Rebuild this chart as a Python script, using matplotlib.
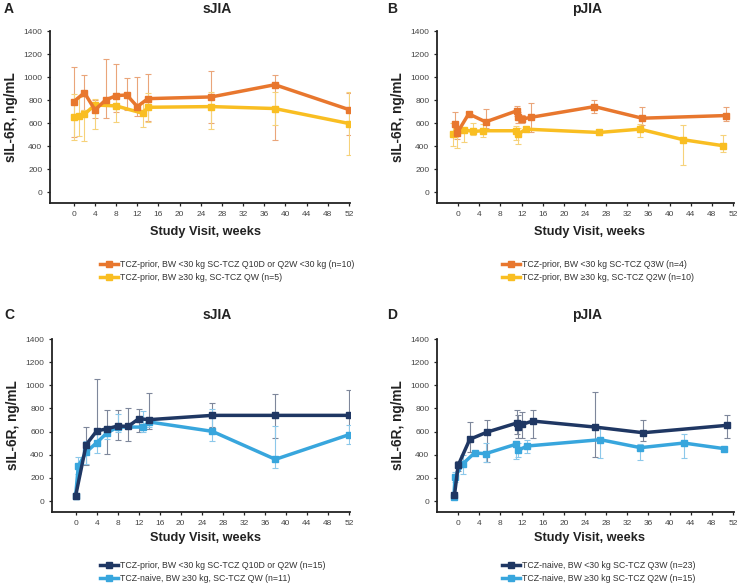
import numpy as np
import matplotlib.pyplot as plt

plt.rcParams['font.family'] = ['Liberation Sans', 'DejaVu Sans']

# colours
ORANGE = '#E8772E'
YELLOW = '#F9BE22'
NAVY = '#1F3763'
LBLUE = '#38A6DD'

# ---------------- Panel A : sJIA, TCZ-prior ----------------
a1_wk = [0, 2, 4, 6, 8, 10, 12, 14, 26, 38, 52]
a1_val = [786, 864, 714, 800, 838, 844, 743, 812, 827, 933, 717]
a1_lo = [480, 710, 640, 640, 700, 715, 660, 620, 600, 455, 495]
a1_hi = [1088, 1018, 800, 1160, 1112, 990, 1003, 1030, 1050, 1015, 865]

a2_wk = [0, 1, 2, 4, 8, 13, 14, 26, 38, 52]
a2_val = [651, 657, 677, 757, 749, 685, 737, 743, 726, 596]
a2_lo = [455, 490, 446, 550, 613, 564, 608, 547, 580, 323]
a2_hi = [850, 830, 715, 810, 860, 780, 860, 870, 870, 870]

# ---------------- Panel B : pJIA, TCZ-prior ----------------
b1_wk = [-0.6, -0.2, 2, 5.2, 11.1, 11.4, 12.1, 13.8, 25.8, 34.8, 50.6]
b1_val = [590, 513, 680, 610, 706, 650, 634, 650, 743, 642, 665]
b1_lo = [480, 460, 650, 560, 660, 600, 600, 520, 685, 580, 622]
b1_hi = [700, 560, 700, 722, 750, 700, 670, 778, 800, 743, 737]

b2_wk = [-1.0, -0.3, 1.1, 2.8, 4.7, 11.0, 11.3, 12.8, 26.7, 34.4, 42.6, 50.1]
b2_val = [504, 533, 541, 527, 533, 533, 501, 547, 518, 547, 455, 403]
b2_lo = [400, 380, 432, 500, 475, 450, 420, 530, 500, 480, 233, 346]
b2_hi = [600, 570, 560, 600, 590, 570, 560, 565, 540, 590, 582, 492]

# ---------------- Panel C : sJIA ----------------
c1_wk = [0, 2, 4, 6, 8, 10, 12, 14, 26, 38, 52]
c1_val = [45, 487, 605, 625, 648, 645, 711, 703, 740, 740, 740]
c1_lo = [45, 308, 490, 403, 524, 515, 596, 625, 640, 547, 590]
c1_hi = [45, 636, 1057, 789, 790, 806, 798, 933, 847, 927, 956]

c2_wk = [0, 0.5, 2, 4, 6, 8, 12.8, 14, 26, 38, 52]
c2_val = [45, 300, 423, 504, 590, 639, 639, 683, 602, 360, 573]
c2_lo = [45, 230, 320, 418, 540, 600, 600, 640, 515, 285, 490]
c2_hi = [45, 380, 520, 590, 640, 755, 775, 720, 798, 645, 660]

# ---------------- Panel D : pJIA ----------------
d1_wk = [-0.7, 0, 2.2, 5.5, 11.1, 11.3, 12.1, 14.1, 25.9, 35.0, 50.9]
d1_val = [48, 308, 533, 596, 674, 640, 662, 691, 639, 590, 654]
d1_lo = [30, 260, 420, 340, 580, 545, 547, 545, 380, 518, 547]
d1_hi = [70, 350, 683, 697, 789, 740, 770, 783, 942, 703, 746]

d2_wk = [-0.8, -0.6, 0.9, 3.1, 5.2, 10.9, 11.4, 13.0, 26.9, 34.5, 42.7, 50.4]
d2_val = [35, 207, 322, 415, 409, 490, 438, 475, 530, 461, 501, 452]
d2_lo = [20, 160, 236, 395, 340, 366, 380, 418, 374, 351, 374, 440]
d2_hi = [50, 250, 400, 430, 505, 520, 500, 530, 630, 490, 576, 465]

legends = {
    'A': ['TCZ-prior, BW <30 kg SC-TCZ Q10D or Q2W <30 kg (n=10)',
          'TCZ-prior, BW \u226530 kg, SC-TCZ QW (n=5)'],
    'B': ['TCZ-prior, BW <30 kg SC-TCZ Q3W (n=4)',
          'TCZ-prior, BW \u226530 kg, SC-TCZ Q2W (n=10)'],
    'C': ['TCZ-prior, BW <30 kg SC-TCZ Q10D or Q2W (n=15)',
          'TCZ-naive, BW \u226530 kg, SC-TCZ QW (n=11)'],
    'D': ['TCZ-naive, BW <30 kg SC-TCZ Q3W (n=23)',
          'TCZ-naive, BW \u226530 kg SC-TCZ Q2W (n=15)'],
}

W, H = 740, 585
fig = plt.figure(figsize=(7.4, 5.85), dpi=100)

def px(x, y):
    # pixel (from top-left) -> figure fraction
    return x / W, 1 - y / H

# letter, title, axes box (px: left, top, right, bottom), xmin,
# title x, letter x, row offset, legend x, legend y, series
panels = [
    ('A', 'sJIA', (50, 31, 350, 203), -4.5, 217, 4, 0, 100, 271,
     [(a1_wk, a1_val, a1_lo, a1_hi, ORANGE, '#EAA57A'),
      (a2_wk, a2_val, a2_lo, a2_hi, YELLOW, '#F6D27A')]),
    ('B', 'pJIA', (437, 31, 734, 203), -4.0, 587, 387, 0, 502, 271,
     [(b1_wk, b1_val, b1_lo, b1_hi, ORANGE, '#EAA57A'),
      (b2_wk, b2_val, b2_lo, b2_hi, YELLOW, '#F6D27A')]),
    ('C', 'sJIA', (52, 339, 350, 512), -4.5, 217, 4, 306, 100, 572,
     [(c1_wk, c1_val, c1_lo, c1_hi, NAVY, '#7E879B'),
      (c2_wk, c2_val, c2_lo, c2_hi, LBLUE, '#8CC8EA')]),
    ('D', 'pJIA', (437, 339, 734, 512), -4.0, 587, 387, 306, 502, 572,
     [(d1_wk, d1_val, d1_lo, d1_hi, NAVY, '#7E879B'),
      (d2_wk, d2_val, d2_lo, d2_hi, LBLUE, '#8CC8EA')]),
]

for letter, title, box, xmin, tx, lx, dy, legx, legy, series in panels:
    l, t, r, b = box
    ax = fig.add_axes([l / W, 1 - b / H, (r - l) / W, (b - t) / H])
    handles = []
    for i, (wk, val, lo, hi, col, ecol) in enumerate(series):
        val = np.array(val)
        yerr = [val - np.array(lo), np.array(hi) - val]
        ax.errorbar(wk, val, yerr=yerr, fmt='none', ecolor=ecol,
                    elinewidth=0.8, capsize=2, capthick=0.8, zorder=2 + i)
    for i, (wk, val, lo, hi, col, ecol) in reversed(list(enumerate(series))):
        h, = ax.plot(wk, val, color=col, lw=2.5, marker='s', ms=5,
                     zorder=5 - i)
        handles.insert(0, h)
    ax.set_xlim(xmin, 52.2)
    ax.set_ylim(-95, 1400)
    ax.set_xticks(np.arange(0, 53, 4))
    ax.set_yticks(np.arange(0, 1401, 200))
    for s in ['top', 'right']:
        ax.spines[s].set_visible(False)
    for s in ['left', 'bottom']:
        ax.spines[s].set_linewidth(1.3)
        ax.spines[s].set_color('#222222')
    ax.tick_params(labelsize=6, color='#222222', labelcolor='#444444',
                   length=2.5, width=0.9, pad=3)
    ax.set_ylabel('sIL-6R, ng/mL', fontsize=9.8, fontweight='bold',
                  color='#222222', labelpad=4)

    fig.text(*px((l + r) / 2 + 5 if letter in 'AC' else (l + r) / 2 + 4,
                 232 + dy), 'Study Visit, weeks', fontsize=9.2,
             fontweight='bold', color='#222222', ha='center', va='center')
    fig.text(*px(tx, 9 + dy), title, fontsize=10, fontweight='bold',
             color='#222222', ha='center', va='center')
    fig.text(*px(lx, 9 + dy), letter, fontsize=10, fontweight='bold',
             color='#222222', ha='left', va='center')
    fig.legend(handles, legends[letter], loc='center left',
               bbox_to_anchor=px(legx, legy), frameon=False,
               fontsize=6.3, handlelength=2.0, handletextpad=0.3,
               labelspacing=0.45, borderpad=0, borderaxespad=0,
               labelcolor='#333333')

fig.savefig('out.png', dpi=100)
